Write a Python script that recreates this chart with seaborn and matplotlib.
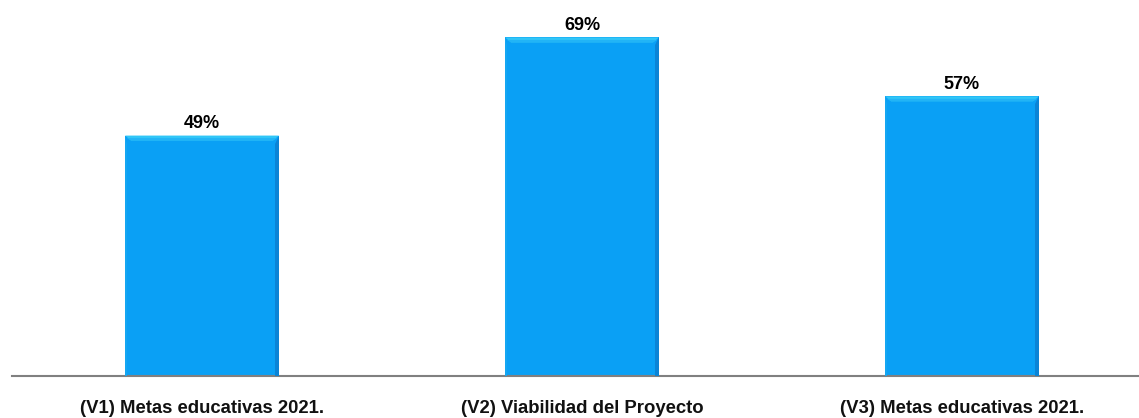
import matplotlib
matplotlib.use("Agg")
import matplotlib.pyplot as plt
from matplotlib.patches import Polygon
import seaborn as sns
import pandas as pd

categories = ["(V1) Metas educativas 2021.", "(V2) Viabilidad del Proyecto", "(V3) Metas educativas 2021."]
values = [0.49, 0.69, 0.57]
value_labels = ["49%", "69%", "57%"]

sns.set_theme(style="white")
plt.rcParams["font.family"] = ["Liberation Sans", "DejaVu Sans"]

df = pd.DataFrame({"cat": categories, "val": values})

fig = plt.figure(figsize=(11.39, 4.18), dpi=100)
ax_w_px, ax_h_px = 1140, 368
ax = fig.add_axes([12 / 1139, 42 / 418, ax_w_px / 1139, ax_h_px / 418])
sns.barplot(data=df, x="cat", y="val", color="#0AA0F5", saturation=1, width=0.405, ax=ax)
ax.set_ylim(0, 0.75)
ax.set_xlim(-0.5, 2.5)

px_x = 3.0 / ax_w_px   # data units per pixel (x)
px_y = 0.75 / ax_h_px  # data units per pixel (y)

# bevel effect
for p in ax.patches[:]:
    x0, y0 = p.get_x(), p.get_y()
    w, h = p.get_width(), p.get_height()
    p.set_edgecolor("none")
    tdy = 5 * px_y
    tdx = 6 * px_x
    rdx = 4 * px_x
    top = Polygon([(x0, y0 + h), (x0 + w, y0 + h), (x0 + w - tdx, y0 + h - tdy), (x0 + tdx, y0 + h - tdy)],
                  closed=True, facecolor="#30C6F7", edgecolor="none", zorder=3)
    top2 = Polygon([(x0 + tdx * 0.3, y0 + h - tdy * 0.5), (x0 + w - tdx * 0.3, y0 + h - tdy * 0.5),
                    (x0 + w - tdx, y0 + h - tdy), (x0 + tdx, y0 + h - tdy)],
                   closed=True, facecolor="#22B4F6", edgecolor="none", zorder=3)
    right = Polygon([(x0 + w, y0 + h), (x0 + w, y0), (x0 + w - rdx, y0), (x0 + w - rdx, y0 + h - 8 * px_y)],
                    closed=True, facecolor="#0B84D6", edgecolor="none", zorder=3)
    left = Polygon([(x0, y0 + h), (x0, y0), (x0 + 2 * px_x, y0), (x0 + 2 * px_x, y0 + h - 8 * px_y)],
                   closed=True, facecolor="#14A6F2", edgecolor="none", zorder=3)
    for poly in (top, top2, right, left):
        ax.add_patch(poly)

for i, (v, lab) in enumerate(zip(values, value_labels)):
    ax.text(i, v + 0.007, lab, ha="center", va="bottom", fontsize=13, fontweight="bold", color="black")

for s in ["top", "right", "left"]:
    ax.spines[s].set_visible(False)
ax.spines["bottom"].set_color("#808080")
ax.spines["bottom"].set_linewidth(1.5)
ax.set_yticks([])
ax.set_xlabel("")
ax.set_ylabel("")
ax.tick_params(axis="x", length=0, pad=17)
for t in ax.get_xticklabels():
    t.set_fontweight("bold")
    t.set_fontsize(13.3)
    t.set_color("#111111")

fig.savefig("out.png", dpi=100)
